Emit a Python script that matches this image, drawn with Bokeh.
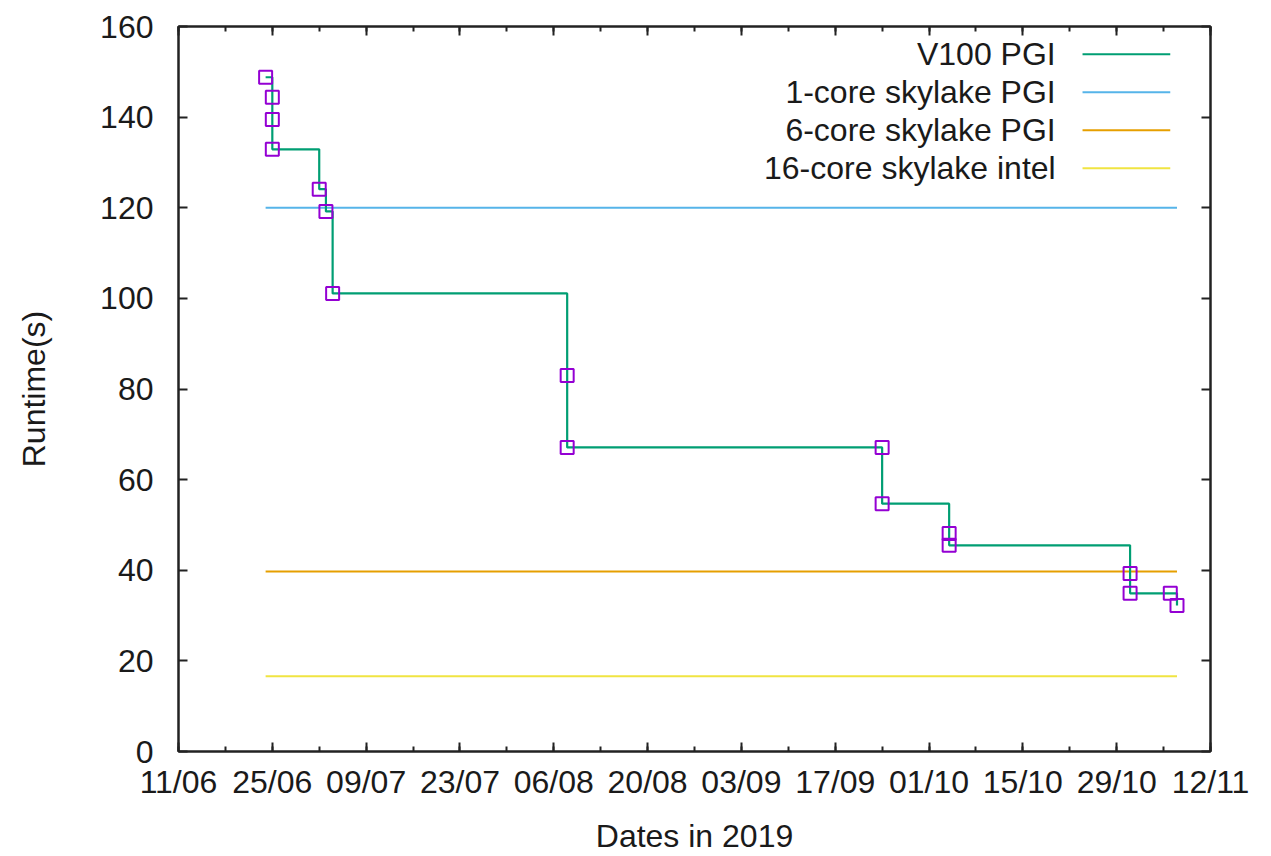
import datetime as dt
from bokeh.plotting import figure
from bokeh.models import (FixedTicker, DatetimeTickFormatter, LinearAxis, DatetimeAxis,
                          Range1d, ColumnDataSource)
from bokeh.core.properties import value
from bokeh.embed import file_html
from bokeh.resources import INLINE

# ---- data -------------------------------------------------------------
run_dates = ["2019-06-24", "2019-06-25", "2019-06-25", "2019-06-25", "2019-07-02",
             "2019-07-03", "2019-07-04", "2019-08-08", "2019-08-08", "2019-09-24",
             "2019-09-24", "2019-10-04", "2019-10-04", "2019-10-31", "2019-10-31",
             "2019-11-06", "2019-11-07"]
v100_runtime = [148.8, 144.4, 139.5, 132.9, 124.1, 119.2, 101.1, 83.0, 67.1, 67.1,
                54.7, 48.1, 45.5, 39.3, 34.9, 34.9, 32.2]

cpu_labels = ["1-core skylake PGI", "6-core skylake PGI", "16-core skylake intel"]
cpu_runtime = [120.0, 39.7, 16.6]

legend_labels = ["V100 PGI"] + cpu_labels
legend_colors = ["#009e73", "#56b4e9", "#e69f00", "#f0e442"]

tick_dates = ["2019-06-11", "2019-06-25", "2019-07-09", "2019-07-23", "2019-08-06",
              "2019-08-20", "2019-09-03", "2019-09-17", "2019-10-01", "2019-10-15",
              "2019-10-29", "2019-11-12"]
y_ticks = [0, 20, 40, 60, 80, 100, 120, 140, 160]

# ---- helpers ----------------------------------------------------------
def to_dt(s):
    return dt.datetime.strptime(s, "%Y-%m-%d")

def to_ms(d):
    return (d - dt.datetime(1970, 1, 1)).total_seconds() * 1000.0

xs = [to_dt(s) for s in run_dates]
tick_ms = [to_ms(to_dt(s)) for s in tick_dates]
minor_ms = []
for i in range(len(tick_ms) - 1):
    minor_ms += [tick_ms[i], (tick_ms[i] + tick_ms[i + 1]) / 2]
minor_ms.append(tick_ms[-1])

x0, x1 = to_dt(tick_dates[0]), to_dt(tick_dates[-1])
FONT = "Liberation Sans"
FS = "32px"
INK = "#1a1a1a"
AX = "#222222"

p = figure(width=1260, height=856, x_axis_type="datetime",
           x_range=Range1d(x0, x1), y_range=Range1d(0, 160),
           output_backend="svg", toolbar_location=None,
           min_border_left=178, min_border_right=50, min_border_top=26,
           min_border_bottom=105, background_fill_color="white")
p.grid.visible = False
p.outline_line_color = AX
p.outline_line_width = 2

# x axis
xa = p.xaxis[0]
xa.ticker = FixedTicker(ticks=tick_ms, minor_ticks=minor_ms)
xa.formatter = DatetimeTickFormatter(days="%d/%m", months="%d/%m", hours="%d/%m")
xa.axis_label = "Dates in 2019"

ya = p.yaxis[0]
ya.ticker = FixedTicker(ticks=y_ticks)
ya.axis_label = "Runtime(s)"


def style_ticks(ax):
    ax.major_tick_in = 9
    ax.major_tick_out = 0
    ax.minor_tick_in = 5
    ax.minor_tick_out = 0
    ax.axis_line_width = 2
    ax.axis_line_color = AX
    ax.major_tick_line_width = 2
    ax.minor_tick_line_width = 2
    ax.major_tick_line_color = AX
    ax.minor_tick_line_color = AX


for ax in (xa, ya):
    ax.major_label_text_font = FONT
    ax.major_label_text_font_size = FS
    ax.major_label_text_color = INK
    ax.axis_label_text_font = FONT
    ax.axis_label_text_font_size = FS
    ax.axis_label_text_font_style = "normal"
    ax.axis_label_text_color = INK
    style_ticks(ax)
xa.major_label_standoff = 12
xa.axis_label_standoff = 15
ya.major_label_standoff = 25
ya.axis_label_standoff = 45

# mirrored axes (ticks only, no labels drawn)
top = DatetimeAxis(ticker=FixedTicker(ticks=tick_ms, minor_ticks=minor_ms))
right = LinearAxis(ticker=FixedTicker(ticks=y_ticks))
for ax in (top, right):
    style_ticks(ax)
    ax.major_label_text_font_size = "1px"
    ax.major_label_text_color = None
    ax.major_label_standoff = 0
p.add_layout(top, "above")
p.add_layout(right, "right")

# reference CPU lines spanning the GPU date range
for val, col in zip(cpu_runtime, legend_colors[1:]):
    p.line([xs[0], xs[-1]], [val, val], line_color=col, line_width=2)

# V100 step line + markers
src = ColumnDataSource(dict(x=xs, y=v100_runtime))
p.step("x", "y", source=src, mode="after", line_color=legend_colors[0], line_width=2.2)
p.scatter("x", "y", source=src, marker="square", size=13, fill_color=None,
          line_color="#9400d3", line_width=2)

# gnuplot-style legend (text right-aligned, sample to the right)
span = (x1 - x0)
text_x = x0 + span * 0.850
seg_a = x0 + span * 0.876
seg_b = x0 + span * 0.961
ys_leg = [153.9 - 8.4 * i for i in range(len(legend_labels))]
p.text(x=[text_x] * len(legend_labels), y=ys_leg, text=legend_labels,
       text_align="right", text_baseline="middle", text_font=value(FONT),
       text_font_size=FS, text_color=INK)
p.segment(x0=[seg_a] * len(legend_labels), x1=[seg_b] * len(legend_labels),
          y0=ys_leg, y1=ys_leg, line_color=legend_colors, line_width=2)

open("out.html", "w").write(file_html(p, INLINE))
